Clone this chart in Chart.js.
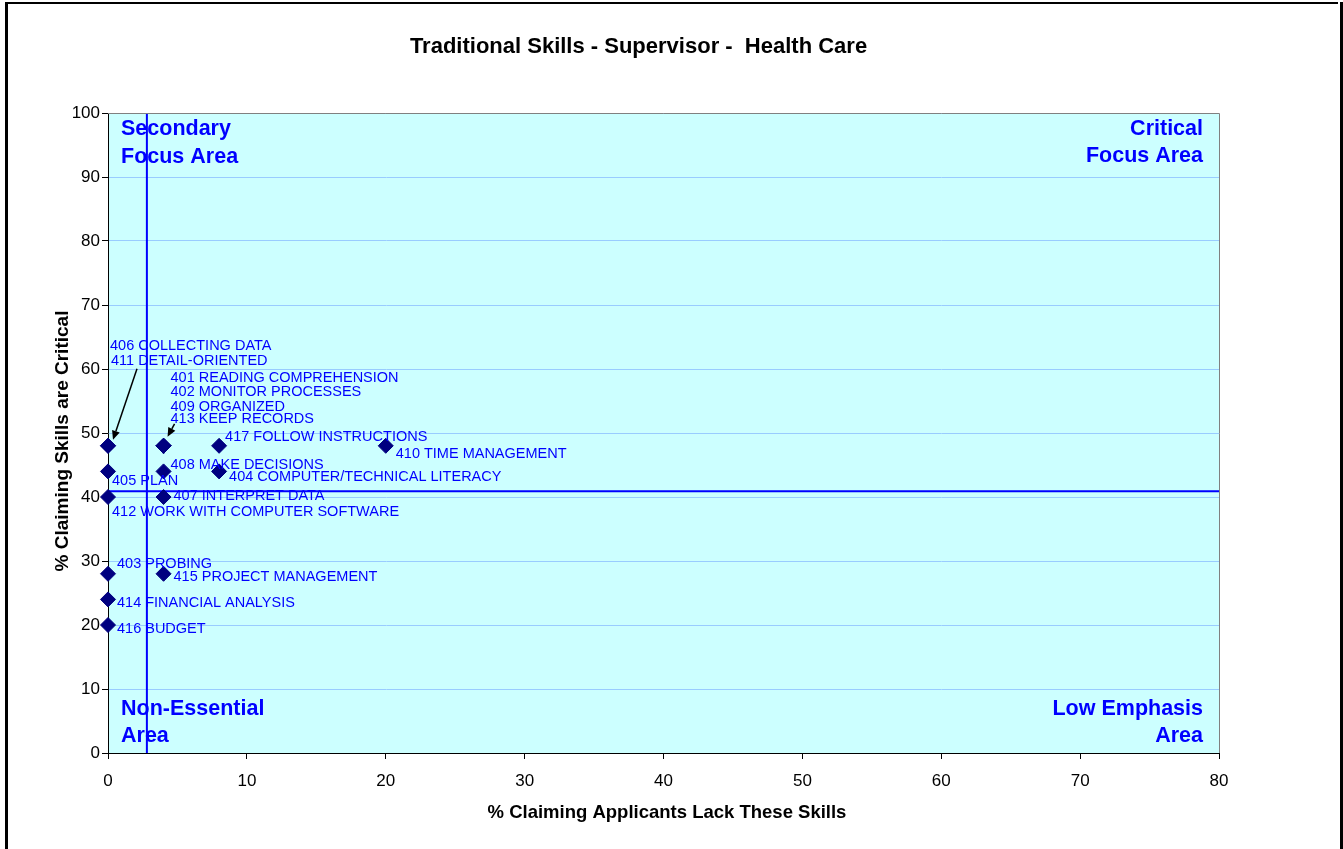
<!DOCTYPE html>
<html><head><meta charset="utf-8">
<script src="https://cdn.jsdelivr.net/npm/chart.js@4/dist/chart.umd.min.js"></script>
<style>html,body{margin:0;padding:0;background:#fff;overflow:hidden}canvas{display:block}</style>
</head><body><canvas id="c" width="1343" height="849"></canvas>
<script>
// ---- data ----
const skillNames = [
  '401 READING COMPREHENSION','402 MONITOR PROCESSES','403 PROBING',
  '404 COMPUTER/TECHNICAL LITERACY','405 PLAN','406 COLLECTING DATA',
  '407 INTERPRET DATA','408 MAKE DECISIONS','409 ORGANIZED',
  '410 TIME MANAGEMENT','411 DETAIL-ORIENTED','412 WORK WITH COMPUTER SOFTWARE',
  '413 KEEP RECORDS','414 FINANCIAL ANALYSIS','415 PROJECT MANAGEMENT',
  '416 BUDGET','417 FOLLOW INSTRUCTIONS'
];
const lackPct     = [4, 4, 0, 8, 0, 0, 4, 4, 4, 20, 0, 0, 4, 0, 4, 0, 8];
const criticalPct = [48,48,28,44,44,48,40,44,48, 48,48,40,48,24,28,20,48];
const xTicks = [0,10,20,30,40,50,60,70,80];
const yTicks = [0,10,20,30,40,50,60,70,80,90,100];
const dividerX = 2.8;
const dividerY = 40.9;
const chartTitle = 'Traditional Skills - Supervisor -  Health Care';
const xTitle = '% Claiming Applicants Lack These Skills';
const yTitle = '% Claiming Skills are Critical';
const quadrantText = {
  topLeft: ['Secondary','Focus Area'],
  topRight: ['Critical','Focus Area'],
  bottomLeft: ['Non-Essential','Area'],
  bottomRight: ['Low Emphasis','Area']
};

// ---- label placement (pixel offsets from each point) ----
const labelOffsets = [
  [7,-69],[7,-55],[9,-11],[10,5],[4,9],[2,-101],[10,-2],[7,-7],[7,-40],
  [10,7],[3,-86],[4,14],[7,-28],[9,3],[10,2],[9,3],[6,-10]
];
// arrows: [pointIndex, startDx, startDy, endDx, endDy]
const arrowSpecs = [[5, 29,-77, 5,-6],[0, 11,-22, 4,-9]];

const FONT = "'Liberation Sans', Arial, sans-serif";
const scatterData = lackPct.map((x,i)=>({x, y: criticalPct[i]}));

const decor = {
  id:'decor',
  beforeDraw(chart){
    const {ctx, chartArea:a} = chart;
    ctx.save();
    ctx.fillStyle='#ffffff'; ctx.fillRect(0,0,chart.width,chart.height);
    ctx.fillStyle='#ccffff'; ctx.fillRect(a.left,a.top,a.right-a.left,a.bottom-a.top);
    ctx.restore();
  },
  afterDatasetsDraw(chart){
    const {ctx} = chart;
    const xs = chart.scales.x, ys = chart.scales.y;
    ctx.save();
    ctx.font = '14.5px ' + FONT;
    ctx.fillStyle = '#0000ff';
    ctx.textAlign = 'left';
    ctx.textBaseline = 'alphabetic';
    skillNames.forEach((t,i)=>{
      const px = xs.getPixelForValue(lackPct[i]);
      const py = ys.getPixelForValue(criticalPct[i]);
      ctx.fillText(t, px + labelOffsets[i][0], py + labelOffsets[i][1] + 5);
    });
    ctx.strokeStyle='#000'; ctx.fillStyle='#000'; ctx.lineWidth=1.5;
    arrowSpecs.forEach(([i,sx,sy,ex,ey])=>{
      const px = xs.getPixelForValue(lackPct[i]);
      const py = ys.getPixelForValue(criticalPct[i]);
      const x1=px+sx,y1=py+sy,x2=px+ex,y2=py+ey;
      const ang=Math.atan2(y2-y1,x2-x1), L=9, W=4;
      const bx=x2-L*Math.cos(ang), by=y2-L*Math.sin(ang);
      ctx.beginPath(); ctx.moveTo(x1,y1); ctx.lineTo(bx,by); ctx.stroke();
      ctx.beginPath(); ctx.moveTo(x2,y2);
      ctx.lineTo(bx+W*Math.sin(ang), by-W*Math.cos(ang));
      ctx.lineTo(bx-W*Math.sin(ang), by+W*Math.cos(ang));
      ctx.closePath(); ctx.fill();
    });
    ctx.restore();
  },
  afterDraw(chart){
    const {ctx, chartArea:a} = chart;
    ctx.save();
    // plot border (top/right gray)
    ctx.strokeStyle='#808080'; ctx.lineWidth=1;
    ctx.beginPath();
    ctx.moveTo(a.left, a.top+0.5); ctx.lineTo(a.right+0.5, a.top+0.5); ctx.lineTo(a.right+0.5, a.bottom);
    ctx.stroke();
    // outer frame
    ctx.fillStyle='#000';
    ctx.fillRect(5,2,3,chart.height);
    ctx.fillRect(5,2,1338-5,2);
    ctx.fillRect(1340,2,3,chart.height);
    // title
    ctx.fillStyle='#000';
    ctx.textAlign='center'; ctx.textBaseline='alphabetic';
    ctx.font='bold 22px ' + FONT;
    ctx.fillText(chartTitle, 638.5, 53);
    ctx.font='bold 18.5px ' + FONT;
    ctx.fillText(xTitle, 667, 818);
    ctx.font='bold 19px ' + FONT;
    ctx.save();
    ctx.translate(68, 441); ctx.rotate(-Math.PI/2);
    ctx.fillText(yTitle, 0, 0);
    ctx.restore();
    // quadrant labels
    ctx.fillStyle='#0000ff';
    ctx.font='bold 21.5px ' + FONT;
    const lx = a.left + 13, rx = a.right - 16;
    ctx.textAlign='left';
    ctx.fillText(quadrantText.topLeft[0], lx, 134.5);
    ctx.fillText(quadrantText.topLeft[1], lx, 162.5);
    ctx.fillText(quadrantText.bottomLeft[0], lx, 714.5);
    ctx.fillText(quadrantText.bottomLeft[1], lx, 742);
    ctx.textAlign='right';
    ctx.fillText(quadrantText.topRight[0], rx, 134.5);
    ctx.fillText(quadrantText.topRight[1], rx, 162);
    ctx.fillText(quadrantText.bottomRight[0], rx, 714.5);
    ctx.fillText(quadrantText.bottomRight[1], rx, 742);
    ctx.restore();
  }
};

new Chart(document.getElementById('c'), {
  type:'scatter',
  data:{
    datasets:[
      {
        label:'Skills', data: scatterData, order:0, clip:false,
        pointStyle:'rectRot', pointRadius:7.5, pointHoverRadius:7.5,
        backgroundColor:'#000080', borderColor:'#000080', borderWidth:1
      },
      {
        label:'vdiv', data:[{x:dividerX,y:yTicks[0]},{x:dividerX,y:yTicks[yTicks.length-1]}],
        showLine:true, pointRadius:0, borderColor:'#0000ff', borderWidth:2, order:1
      },
      {
        label:'hdiv', data:[{x:xTicks[0],y:dividerY},{x:xTicks[xTicks.length-1],y:dividerY}],
        showLine:true, pointRadius:0, borderColor:'#0000ff', borderWidth:2, order:1
      }
    ]
  },
  options:{
    responsive:false, animation:false, devicePixelRatio:1,
    layout:{padding:{left:0,right:124,top:113,bottom:0}},
    plugins:{legend:{display:false}, tooltip:{enabled:false}, title:{display:false}},
    scales:{
      x:{
        type:'linear', min:xTicks[0], max:xTicks[xTicks.length-1],
        afterBuildTicks(s){ s.ticks = xTicks.map(v=>({value:v})); },
        afterFit(s){ s.height = 96; },
        ticks:{color:'#000', font:{family:FONT,size:17}, padding:12, maxRotation:0},
        grid:{drawOnChartArea:false, tickLength:6, tickColor:'#000'},
        border:{color:'#000', width:1}
      },
      y:{
        type:'linear', min:yTicks[0], max:yTicks[yTicks.length-1],
        afterBuildTicks(s){ s.ticks = yTicks.map(v=>({value:v})); },
        afterFit(s){ s.width = 108; },
        ticks:{color:'#000', font:{family:FONT,size:17}, padding:2},
        grid:{color:'#99ccff', tickLength:6, tickColor:'#000'},
        border:{color:'#000', width:1}
      }
    }
  },
  plugins:[decor]
});
</script></body></html>
